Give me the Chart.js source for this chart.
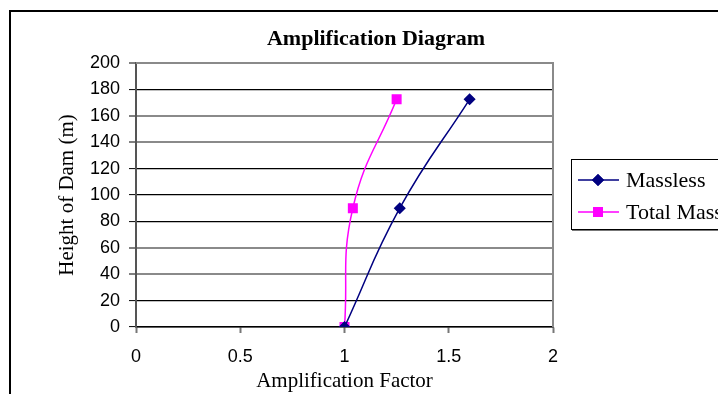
<!DOCTYPE html>
<html>
<head>
<meta charset="utf-8">
<script src="https://cdn.jsdelivr.net/npm/chart.js@4.4.0/dist/chart.umd.min.js"></script>
<style>
html,body{margin:0;padding:0;background:#fff;}
canvas{display:block;}
</style>
</head>
<body>
<canvas id="c" width="718" height="394"></canvas>
<script>
const heights = [0, 90, 172.5];
const massless = [1.0, 1.265, 1.6];
const totalMass = [1.0, 1.04, 1.25];
const seriesNames = ['Massless', 'Total Mass'];
const xTicks = [0, 0.5, 1, 1.5, 2];
const yTicks = [0, 20, 40, 60, 80, 100, 120, 140, 160, 180, 200];
const titleText = 'Amplification Diagram';
const xTitle = 'Amplification Factor';
const yTitle = 'Height of Dam (m)';

const SERIF = '"Liberation Serif", "Times New Roman", serif';
const SANS = '"Liberation Sans", Arial, sans-serif';

function pts(xs, ys) { return xs.map((x, i) => ({x: x, y: ys[i]})); }

const grayLines = [40, 60, 140, 160, 200];

const decor = {
  id: 'decor',
  afterDraw(chart) {
    const ctx = chart.ctx;
    const a = chart.chartArea;
    ctx.save();
    // outer border
    ctx.strokeStyle = '#000';
    ctx.lineWidth = 2;
    ctx.beginPath();
    ctx.moveTo(10, 400);
    ctx.lineTo(10, 11);
    ctx.lineTo(730, 11);
    ctx.stroke();
    // plot top and right border
    ctx.strokeStyle = '#8a8a8a';
    ctx.lineWidth = 2;
    ctx.beginPath();
    ctx.moveTo(a.left, a.top);
    ctx.lineTo(a.right, a.top);
    ctx.lineTo(a.right, a.bottom);
    ctx.stroke();
    // title
    ctx.fillStyle = '#000';
    ctx.font = 'bold 22px ' + SERIF;
    ctx.textAlign = 'center';
    ctx.textBaseline = 'middle';
    ctx.fillText(titleText, 376, 39);
    // legend
    const lx = 571, ly = 159, lw = 160, lh = 70;
    ctx.fillStyle = '#fff';
    ctx.fillRect(lx, ly, lw, lh);
    ctx.strokeStyle = '#777';
    ctx.lineWidth = 2;
    ctx.beginPath();
    ctx.moveTo(lx + 1, ly + lh + 1);
    ctx.lineTo(lx + lw, ly + lh + 1);
    ctx.stroke();
    ctx.strokeStyle = '#000';
    ctx.lineWidth = 1;
    ctx.strokeRect(lx + 0.5, ly + 0.5, lw, lh);
    const rows = [180, 212];
    chart.data.datasets.forEach((ds, i) => {
      const y = rows[i];
      ctx.strokeStyle = ds.borderColor;
      ctx.lineWidth = 1.5;
      ctx.beginPath();
      ctx.moveTo(578, y);
      ctx.lineTo(619, y);
      ctx.stroke();
      Chart.helpers.drawPoint(ctx, {pointStyle: ds.pointStyle, radius: ds.pointRadius, borderWidth: 1}, 598, y);
      ctx.fillStyle = ds.pointBackgroundColor;
      ctx.strokeStyle = ds.pointBorderColor;
      ctx.fill();
      ctx.stroke();
      ctx.fillStyle = '#000';
      ctx.font = '22px ' + SERIF;
      ctx.textAlign = 'left';
      ctx.textBaseline = 'middle';
      ctx.fillText(ds.label, 626, y + 1);
    });
    ctx.restore();
  }
};

new Chart(document.getElementById('c'), {
  type: 'scatter',
  data: {
    datasets: [
      {
        label: seriesNames[0],
        data: pts(massless, heights),
        showLine: true,
        borderColor: '#000080',
        backgroundColor: '#000080',
        pointBackgroundColor: '#000080',
        pointBorderColor: '#000080',
        pointStyle: 'rectRot',
        pointRadius: 5,
        borderWidth: 1.5,
        tension: 0.45
      },
      {
        label: seriesNames[1],
        data: pts(totalMass, heights),
        showLine: true,
        borderColor: '#ff00ff',
        backgroundColor: '#ff00ff',
        pointBackgroundColor: '#ff00ff',
        pointBorderColor: '#ff00ff',
        pointStyle: 'rect',
        pointRadius: 6,
        borderWidth: 1.5,
        tension: 0.45
      }
    ]
  },
  options: {
    responsive: false,
    animation: false,
    devicePixelRatio: 1,
    layout: {padding: {top: 63, right: 165, left: 0, bottom: 0}},
    plugins: {legend: {display: false}, title: {display: false}, tooltip: {enabled: false}},
    scales: {
      x: {
        type: 'linear',
        min: 0, max: 2,
        afterFit(s) { s.height = 67; },
        afterBuildTicks(s) { s.ticks = xTicks.map(v => ({value: v})); },
        ticks: {color: '#000', font: {family: SANS, size: 18}, padding: 13, maxRotation: 0,
                callback: v => String(v)},
        grid: {drawOnChartArea: false, drawTicks: true, tickLength: 6, tickColor: '#777', tickWidth: 2},
        border: {color: '#000', width: 1.5},
        title: {display: true, text: xTitle, color: '#000', font: {family: SERIF, size: 21}, padding: {top: 0, bottom: 0}}
      },
      y: {
        type: 'linear',
        min: 0, max: 200,
        afterFit(s) { s.width = 136; },
        afterBuildTicks(s) { s.ticks = yTicks.map(v => ({value: v})); },
        ticks: {color: '#000', font: {family: SANS, size: 18}, padding: 9, callback: v => String(v)},
        grid: {
          drawTicks: true, tickLength: 7,
          color: c => grayLines.indexOf(c.tick && c.tick.value) >= 0 ? '#8a8a8a' : '#000',
          lineWidth: c => grayLines.indexOf(c.tick && c.tick.value) >= 0 ? 2 : 1.2,
          tickColor: '#000', tickWidth: 1
        },
        border: {color: '#555', width: 2},
        title: {display: true, text: yTitle, color: '#000', font: {family: SERIF, size: 21}, padding: {top: 55, bottom: 0}}
      }
    }
  },
  plugins: [decor]
});
</script>
</body>
</html>
